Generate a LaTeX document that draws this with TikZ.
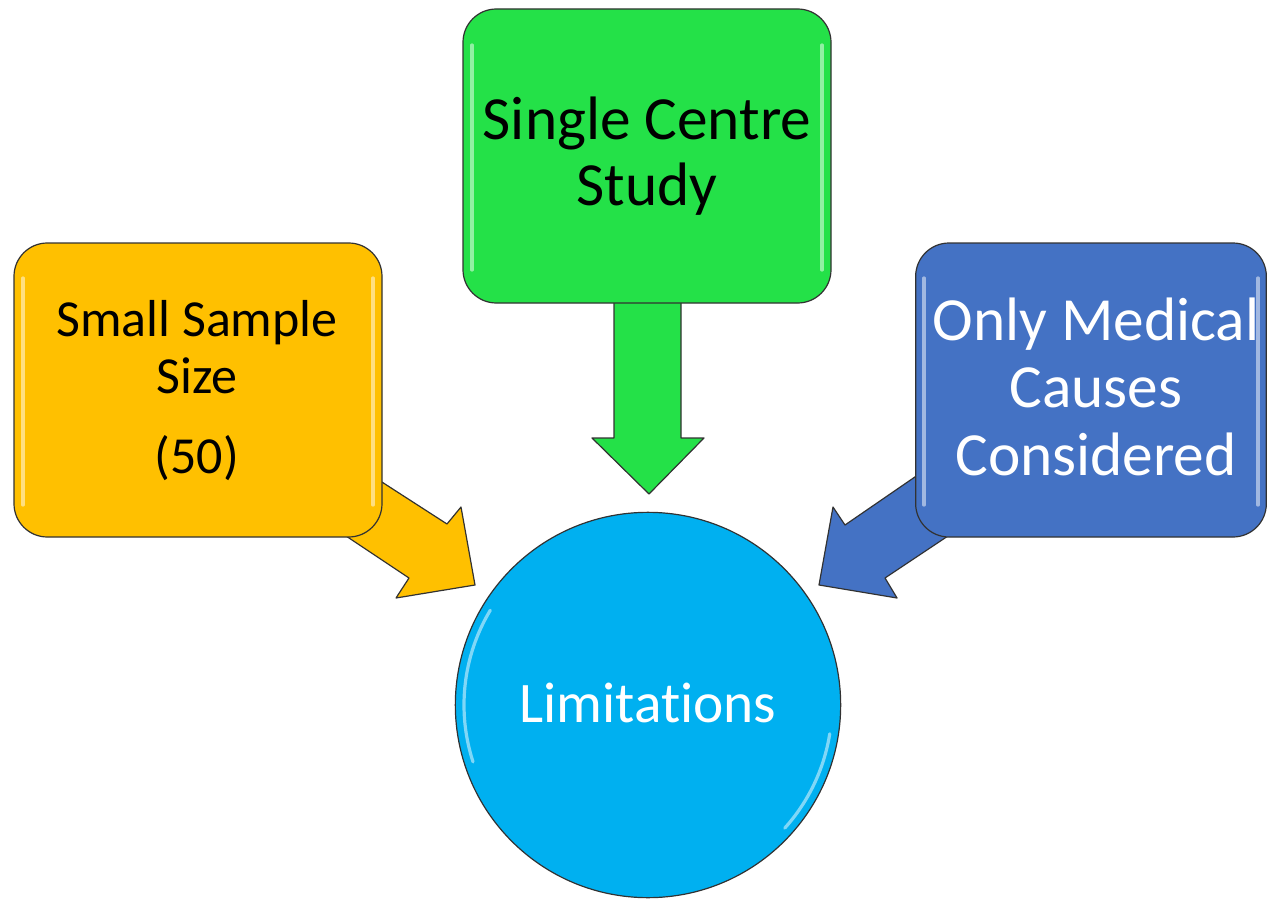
\documentclass[tikz,border=0pt]{standalone}
\usepackage{fontspec}
\setmainfont{Carlito}[Ligatures={NoCommon}]
\definecolor{gGreen}{RGB}{36,225,72}
\definecolor{gGold}{RGB}{255,192,0}
\definecolor{gBlue}{RGB}{68,114,196}
\definecolor{gSky}{RGB}{0,176,240}
\definecolor{gLine}{RGB}{50,50,50}
\begin{document}
\begin{tikzpicture}[x=0.75pt,y=-0.75pt,
  outl/.style={draw=gLine, line width=0.9pt, line join=round},
  boxshape/.style={outl, rectangle, rounded corners=25pt, inner sep=0pt},
  hilite/.style={draw=white, opacity=0.5, line width=2.4pt, line cap=round},
  txtbig/.style={anchor=base, inner sep=0pt, font=\fontsize{46}{49}\selectfont},
  txtmid/.style={anchor=base, inner sep=0pt, font=\fontsize{39}{42}\selectfont}]
\useasboundingbox (0,0) rectangle (1268,899);

% block arrows (drawn first, boxes cover their tails)
\filldraw[outl, fill=gGreen] (614,290) -- (614,438) -- (592,438) -- (649,494) -- (704,438) -- (681,438) -- (681,290) -- cycle;
\filldraw[outl, fill=gGold] (340,455) -- (447,524) -- (461,507) -- (475,585) -- (396,598) -- (409,578) -- (310,512) -- cycle;
\filldraw[outl, fill=gBlue] (960,446) -- (845,525) -- (833,507) -- (819,585) -- (897,598) -- (885,578) -- (990,508) -- cycle;

% boxes
\node[boxshape, fill=gGreen, minimum width=276pt, minimum height=220.5pt] (green) at (647,156) {};
\node[boxshape, fill=gGold, minimum width=276pt, minimum height=220.5pt] (gold) at (198,390) {};
\node[boxshape, fill=gBlue, minimum width=263pt, minimum height=220.5pt] (blue) at (1091,390) {};
\node[outl, circle, fill=gSky, minimum size=289pt, inner sep=0pt] (circ) at (648,705) {};

% glossy highlights (left and right bevels)
\draw[hilite] (472,45) -- (472,270);
\draw[hilite] (822,45) -- (822,270);
\draw[hilite] (23,278) -- (23,505);
\draw[hilite] (373,278) -- (373,505);
\draw[hilite] (924,278) -- (924,505);
\draw[hilite] (1258,278) -- (1258,505);
\draw[hilite] (648,705) ++(162:184) arc[start angle=162, end angle=211, radius=184];
\draw[hilite] (648,705) ++(9:184) arc[start angle=9, end angle=42, radius=184];

% texts
\node[txtbig] (t1) at (647,140) {Single Centre};
\node[txtbig] (t2) at (647,205) {Study};
\node[txtmid] (t3) at (197,336) {Small Sample};
\node[txtmid] (t4) at (197,393) {Size};
\node[txtmid] (t5) at (197,473) {(50)};
\node[txtbig, text=white] (t6) at (1096,340) {Only Medical};
\node[txtbig, text=white] (t7) at (1096,407) {Causes};
\node[txtbig, text=white] (t8) at (1096,475) {Considered};
\node[anchor=base, inner sep=0pt, text=white, font=\fontsize{43}{46}\selectfont] (t9) at (648,722) {Limitations};
\end{tikzpicture}
\end{document}
